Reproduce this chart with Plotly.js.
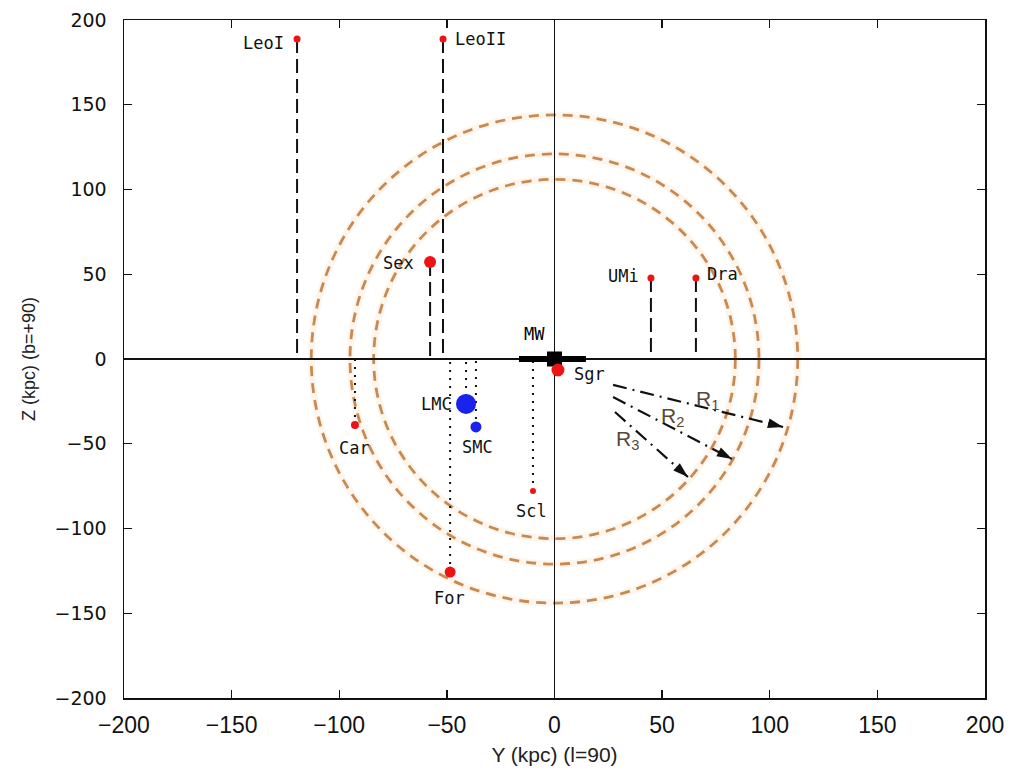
<!DOCTYPE html>
<html>
<head>
<meta charset="utf-8">
<script src="https://cdn.plot.ly/plotly-3.0.1.min.js"></script>
<style>html,body{margin:0;padding:0;background:#fff;}#chart{width:1015px;height:777px;}</style>
</head>
<body>
<div id="chart"></div>
<script>
// ---- data ----
var galaxyNames = ["LeoI","LeoII","Sex","UMi","Dra","Car","LMC","SMC","Scl","For","Sgr"];
var galaxyY     = [-119.6, -51.8, -57.8, 44.8, 65.7, -92.7, -41.1, -36.5, -10.0, -48.5, 1.6];
var galaxyZ     = [188.8, 188.8, 57.2, 47.8, 47.8, -38.9, -26.5, -40.1, -77.9, -125.7, -6.5];
var galaxyType  = ["dSph","dSph","dSph","dSph","dSph","dSph","MC","MC","dSph","dSph","dSph"];
var galaxySize  = [7, 7, 12, 7, 7, 8, 20, 11, 6, 11, 13];

var ringNames = ["R1","R2","R3"];
var ringRy    = [144, 121, 106];   // Z semi-axis (kpc)
var ringRx    = [113, 95, 84];     // Y semi-axis (kpc)

var arrowStartY = [27.2, 27.2, 28.1];
var arrowStartZ = [-15.3, -22.4, -31.3];
var arrowEndY   = [106.2, 82.5, 62.0];
var arrowEndZ   = [-40.1, -59.0, -69.6];
var arrowLabelY = [71.3, 55.0, 34.0];
var arrowLabelZ = [-24.0, -34.0, -48.0];

var mwDiskY = [-16.5, 14.6];
var mwDiskZ = [0, 0];
var mwLabelY = -9.5, mwLabelZ = 14.7;

var xTicks = [-200,-150,-100,-50,0,50,100,150,200];
var yTicks = [-200,-150,-100,-50,0,50,100,150,200];

// ---- styles ----
var labelShift = {
  LeoI:[-11,-4,"right"], LeoII:[10,0,"left"], Sex:[-14,-1,"right"], UMi:[-10,2,"right"],
  Dra:[9,4,"left"], Car:[0,-23,"center"], LMC:[-12,0,"right"], SMC:[2,-20,"center"],
  Scl:[-1,-20,"center"], For:[-1,-26,"center"], Sgr:[14,-4,"left"]
};
var red = "#ee1414", blue = "#1a22ee";
var labelFont = {family:"DejaVu Sans Mono", size:17, color:"#111"};

var traces = [];

// drop lines
var dashX=[], dashY=[], dotX=[], dotY=[];
for (var i=0;i<galaxyNames.length;i++){
  if (galaxyNames[i]==="Sgr") continue;
  if (galaxyZ[i] > 0){ dashX.push(galaxyY[i],galaxyY[i],null); dashY.push(galaxyZ[i],0,null); }
  else { dotX.push(galaxyY[i],galaxyY[i],null); dotY.push(galaxyZ[i],0,null); }
}
traces.push({x:dashX,y:dashY,mode:"lines",line:{color:"#111",width:2,dash:"14px,6px"},hoverinfo:"skip"});
traces.push({x:dotX,y:dotY,mode:"lines",line:{color:"#111",width:2,dash:"2px,6px"},hoverinfo:"skip"});

// arrows
for (var k=0;k<ringNames.length;k++){
  traces.push({x:[arrowStartY[k],arrowEndY[k]], y:[arrowStartZ[k],arrowEndZ[k]], mode:"lines",
    line:{color:"#111",width:2.2,dash:"14px,6px,2px,6px"}, hoverinfo:"skip"});
  traces.push({x:[arrowStartY[k],arrowEndY[k]], y:[arrowStartZ[k],arrowEndZ[k]], mode:"markers",
    marker:{symbol:["circle","arrow"],size:[0,16],color:"#111",opacity:1,angleref:"previous",line:{width:0}}, hoverinfo:"skip"});
}

// MW disk
traces.push({x:mwDiskY,y:mwDiskZ,mode:"lines",line:{color:"#000",width:6},hoverinfo:"skip"});
traces.push({x:[0],y:[0],mode:"markers",marker:{symbol:"square",size:15,color:"#000",opacity:1},hoverinfo:"skip"});

// galaxies
traces.push({x:galaxyY, y:galaxyZ, mode:"markers",
  marker:{size:galaxySize, opacity:1, color:galaxyType.map(function(t){return t==="MC"?blue:red;}), line:{width:0}},
  text:galaxyNames, hoverinfo:"text"});

var annotations = [];
for (var i=0;i<galaxyNames.length;i++){
  var s = labelShift[galaxyNames[i]];
  annotations.push({x:galaxyY[i], y:galaxyZ[i], text:galaxyNames[i], showarrow:false,
    xanchor:s[2], yanchor:"middle", xshift:s[0], yshift:s[1], font:labelFont});
}
annotations.push({x:mwLabelY,y:mwLabelZ,text:"MW",showarrow:false,font:{family:"DejaVu Sans Mono",size:17,color:"#000"}});
for (var k=0;k<ringNames.length;k++){
  annotations.push({x:arrowLabelY[k],y:arrowLabelZ[k],text:"R<sub>"+ringNames[k].slice(1)+"</sub>",showarrow:false,
    font:{family:"Liberation Sans",size:21,color:"#5a4636"}});
}

var shapes = [];
for (var k=0;k<ringNames.length;k++){
  shapes.push({type:"circle",xref:"x",yref:"y",x0:-ringRx[k],x1:ringRx[k],y0:-ringRy[k],y1:ringRy[k],
    layer:"below",line:{color:"rgba(252,210,170,0.22)",width:7}});
  shapes.push({type:"circle",xref:"x",yref:"y",x0:-ringRx[k],x1:ringRx[k],y0:-ringRy[k],y1:ringRy[k],
    layer:"below",line:{color:"#c98a52",width:2.8,dash:"10px,7px"}});
}

var axisCommon = {showgrid:false, zeroline:true, zerolinecolor:"#111", zerolinewidth:1.5,
  showline:true, linecolor:"#111", linewidth:1.5, mirror:"ticks", ticks:"inside", ticklen:8,
  tickcolor:"#111", tickwidth:1.3, tickmode:"array"};

var layout = {
  width:1015, height:777, paper_bgcolor:"#fff", plot_bgcolor:"#fff", showlegend:false,
  margin:{l:124,r:30,t:20,b:79},
  xaxis:Object.assign({}, axisCommon, {range:[-200,200], tickvals:xTicks, ticktext:xTicks.map(String).map(function(s){return s.replace("-","\u2212");}),
    tickfont:{family:"Liberation Sans Narrow, Liberation Sans",size:23,color:"#111"}, ticklabelstandoff:6,
    title:{text:"Y (kpc) (l=90)", font:{family:"Liberation Sans",size:21,color:"#222"}, standoff:10}}),
  yaxis:Object.assign({}, axisCommon, {range:[-200,200], tickvals:yTicks, ticktext:yTicks.map(String).map(function(s){return s.replace("-","\u2212");}),
    tickfont:{family:"DejaVu Sans",size:19,color:"#111"}, ticklabelstandoff:12,
    title:{text:"Z (kpc) (b=+90)", font:{family:"Liberation Sans",size:18,color:"#222"}, standoff:14}}),
  annotations:annotations, shapes:shapes
};

Plotly.newPlot("chart", traces, layout, {displayModeBar:false, staticPlot:true});
</script>
</body>
</html>
